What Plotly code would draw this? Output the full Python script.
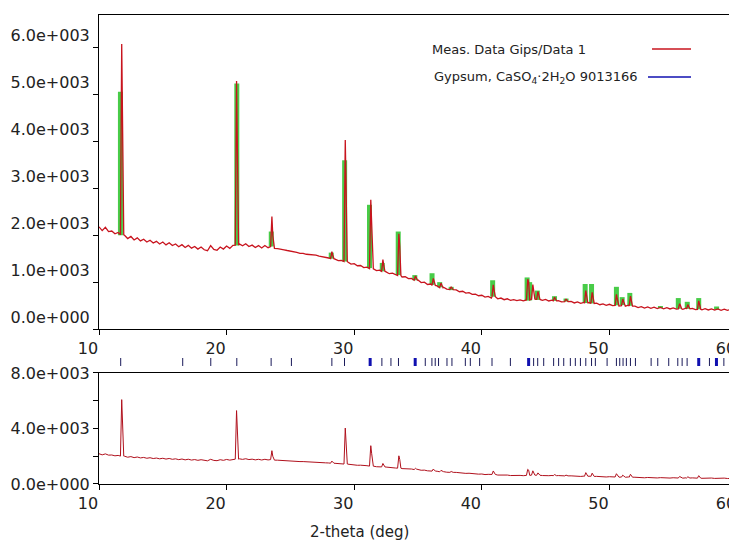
import plotly.graph_objects as go

# ------------------------------------------------------------------ data
# measured background (counts) on a 0.25 deg grid from 10 to 60 deg
theta_bg = [10 + 0.25 * i for i in range(201)]
counts_bg = [
    2180, 2100, 2170, 2080,  2090, 2030, 2060, 2010,
    2000, 1930, 1975, 1900,  1945, 1880, 1915, 1855,
    1895, 1835, 1870, 1815,  1855, 1795, 1840, 1780,
    1815, 1755, 1800, 1740,  1785, 1725, 1760, 1705,
    1750, 1690, 1670, 1780,  1700, 1680, 1750, 1705,
    1770, 1720, 1785, 1790,  1815, 1775, 1820, 1760,
    1790, 1740, 1780, 1730,  1780, 1735, 1785, 1720,
    1715, 1695, 1690, 1675,  1665, 1645, 1635, 1615,
    1615, 1595, 1590, 1575,  1575, 1555, 1545, 1525,
    1515, 1495, 1490, 1460,  1465, 1430, 1430, 1385,
    1395, 1350, 1355, 1310,  1320, 1280, 1285, 1245,
    1255, 1215, 1220, 1180,  1190, 1150, 1160, 1110,
    1115, 1075, 1080, 1040,  1045, 990, 1000, 950,
    960, 920, 920, 880,      890, 850, 865, 825,
    835, 795, 805, 765,      775, 740, 745, 710,
    720, 680, 695, 660,      680, 645, 660, 625,
    645, 610, 627, 605,      620, 600, 635, 630,
    665, 630, 645, 610,      630, 598, 615, 588,
    607, 578, 599, 568,      587, 556, 577, 546,
    567, 538, 560, 530,      550, 518, 537, 506,
    527, 498, 519, 492,      515, 486, 507, 470,
    487, 458, 477, 448,      470, 442, 465, 436,
    459, 432, 455, 428,      451, 424, 447, 421,
    445, 418, 441, 414,      437, 410, 433, 406,
    430, 403, 427, 400,      424, 397, 420, 393,
    405,
]

# measured peaks: position, top, shoulder, local background
meas_peak_pos = [11.78, 20.78, 23.55, 28.25, 29.30, 31.30, 32.25, 33.50, 34.80,
                 36.20, 36.80, 37.60, 40.90, 43.60, 44.00, 44.40, 45.70, 46.60,
                 48.15, 48.65, 50.55, 51.05, 51.65, 55.50, 56.15, 57.00]
meas_peak_top = [6080, 5290, 2400, 1650, 4030, 2760, 1480, 2030, 1130,
                 1080, 980, 900, 940, 1060, 950, 800, 680, 640,
                 820, 780, 740, 640, 700, 540, 520, 600]
meas_peak_sh = [4590, 3000, 2000, 1580, 2690, 2180, 1350, 1760, 1080,
                1000, 930, 870, 820, 1000, 800, 720, 640, 610,
                700, 680, 640, 580, 600, 500, 480, 520]
meas_peak_base = [2010, 1790, 1760, 1500, 1440, 1290, 1230, 1140, 1040,
                  930, 880, 840, 690, 620, 640, 630, 600, 585,
                  560, 545, 505, 500, 490, 430, 430, 420]

# calculated (Gypsum) profile peaks: position, top, base
calc_pos = [11.68, 20.80, 23.50, 28.20, 29.25, 31.20, 32.20, 33.45, 34.75,
            36.10, 36.70, 37.60, 40.85, 43.55, 43.75, 44.35, 45.70, 46.60,
            48.10, 48.60, 50.55, 51.00, 51.60, 54.00, 55.40, 56.10, 57.00, 58.40]
calc_top = [5060, 5240, 2080, 1630, 3600, 2650, 1410, 2080, 1150,
            1190, 1000, 900, 1040, 1100, 1000, 820, 700, 650,
            960, 960, 900, 680, 770, 490, 660, 580, 660, 480]
calc_base = [2000, 1780, 1760, 1500, 1440, 1300, 1230, 1150, 1040,
             940, 890, 830, 690, 610, 610, 620, 600, 585,
             555, 545, 505, 510, 495, 445, 430, 430, 420, 410]

# reference line positions (Gypsum 9013166)
ref_thin = [11.70, 16.56, 18.76, 20.80, 23.49, 25.08, 28.25, 29.24, 32.17, 32.88,
            33.47, 35.57, 36.09, 36.35, 36.61, 37.27, 37.66, 38.71, 39.10, 39.83,
            40.80, 42.24, 44.06, 44.38, 44.85, 45.63, 46.02, 46.42, 46.94, 47.33,
            47.73, 48.15, 48.60, 48.90, 49.82, 50.55, 50.81, 51.07, 51.33, 51.65,
            52.04, 53.27, 53.79, 54.65, 55.36, 55.70, 56.09, 57.84, 58.97, 59.75]
ref_thick = [31.25, 34.78, 43.67, 57.00, 58.39]

x_ticks = [10, 20, 30, 40, 50, 60]
x_tick_text = ["10", "20", "30", "40", "50", "60"]
y1_ticks = [0, 1000, 2000, 3000, 4000, 5000, 6000]
y1_tick_text = ["0.0e+000", "1.0e+003", "2.0e+003", "3.0e+003",
                "4.0e+003", "5.0e+003", "6.0e+003"]
y2_ticks = [0, 4000, 8000]
y2_tick_text = ["0.0e+000", "4.0e+003", "8.0e+003"]
y2_minor = [2000, 6000]

legend_meas = "Meas. Data Gips/Data 1"
legend_ref = "Gypsum, CaSO<sub>4</sub>·2H<sub>2</sub>O 9013166"
x_title = "2-theta (deg)"

# ------------------------------------------------------------------ build measured curve
pts = []
for x, y in zip(theta_bg, counts_bg):
    if any(p - 0.15 < x < p + 0.2 for p in meas_peak_pos):
        continue
    pts.append((x, y))
for p, t, s, b in zip(meas_peak_pos, meas_peak_top, meas_peak_sh, meas_peak_base):
    pts += [(p - 0.1, b), (p, t), (p + 0.07, s), (p + 0.16, b)]
pts.sort()
mx = [a for a, _ in pts]
my = [b for _, b in pts]

gx, gy = [], []
for p, t, b in zip(calc_pos, calc_top, calc_base):
    gx += [p, p, None]
    gy += [b, t, None]


def seg(vals):
    xs, ys = [], []
    for v in vals:
        xs += [v, v, None]
        ys += [0, 1, None]
    return xs, ys


FONT = "DejaVu Sans"
TXT = "#222222"
RED = "#c8141e"
GREEN = "rgb(72,204,72)"

fig = go.Figure()
fig.add_trace(go.Scatter(x=gx, y=gy, mode="lines", xaxis="x", yaxis="y",
                         line=dict(color=GREEN, width=5), hoverinfo="skip"))
fig.add_trace(go.Scatter(x=mx, y=my, mode="lines", xaxis="x", yaxis="y",
                         line=dict(color=RED, width=1.3)))
fig.add_trace(go.Scatter(x=mx, y=my, mode="lines", xaxis="x2", yaxis="y2",
                         line=dict(color="#b0101c", width=1)))
tx, ty = seg(ref_thin)
fig.add_trace(go.Scatter(x=tx, y=ty, mode="lines", xaxis="x3", yaxis="y3",
                         line=dict(color="#1a1a5a", width=1)))
tx, ty = seg(ref_thick)
fig.add_trace(go.Scatter(x=tx, y=ty, mode="lines", xaxis="x3", yaxis="y3",
                         line=dict(color="#1010b0", width=3)))

ax = dict(showline=True, linecolor="black", linewidth=1, ticks="outside",
          ticklen=5, tickcolor="black", tickwidth=1, showgrid=False,
          zeroline=False, automargin=False,
          tickfont=dict(family=FONT, size=16, color=TXT))

# the page body adds an 8px offset; margins compensate for it
fig.update_layout(
    width=737, height=543, template="none", showlegend=False,
    paper_bgcolor="white", plot_bgcolor="white",
    margin=dict(l=91, r=8, t=7, b=67),
    xaxis=dict(ax, domain=[0, 1], range=[10, 60], anchor="y", mirror=True,
               tickvals=x_ticks, ticktext=x_tick_text, ticklabelshift=-11),
    yaxis=dict(ax, domain=[0.3305, 1], range=[0, 6700], anchor="x",
               tickvals=y1_ticks, ticktext=y1_tick_text, ticklabelshift=-12),
    xaxis2=dict(ax, domain=[0, 1], range=[10, 60], anchor="y2", mirror=True,
                tickvals=x_ticks, ticktext=x_tick_text, ticklabelshift=-11),
    yaxis2=dict(ax, domain=[0, 0.2367], range=[0, 8000], anchor="x2",
                tickvals=y2_ticks, ticktext=y2_tick_text,
                minor=dict(tickvals=y2_minor, ticks="outside", ticklen=5,
                           tickcolor="black")),
    xaxis3=dict(domain=[0, 1], range=[10, 60], anchor="y3", visible=False),
    yaxis3=dict(domain=[0.2516, 0.2687], range=[0, 1], anchor="x3", visible=False),
)

fig.add_annotation(text=legend_meas, xref="paper", yref="paper", x=0.5188, y=0.9275,
                   xanchor="left", yanchor="middle", showarrow=False,
                   font=dict(family=FONT, size=13, color=TXT))
fig.add_annotation(text=legend_ref, xref="paper", yref="paper", x=0.522, y=0.8678,
                   xanchor="left", yanchor="middle", showarrow=False,
                   font=dict(family=FONT, size=13, color=TXT))
fig.add_shape(type="line", xref="paper", yref="paper", x0=0.8668, x1=0.9279,
              y0=0.9275, y1=0.9275, line=dict(color=RED, width=1.3))
fig.add_shape(type="line", xref="paper", yref="paper", x0=0.8605, x1=0.9279,
              y0=0.8678, y1=0.8678, line=dict(color="#1010b0", width=1.3))
fig.add_annotation(text=x_title, xref="paper", yref="paper", x=0.409, y=-0.1023,
                   xanchor="center", yanchor="middle", showarrow=False,
                   font=dict(family=FONT, size=15, color=TXT))

fig.write_html("out.html")
